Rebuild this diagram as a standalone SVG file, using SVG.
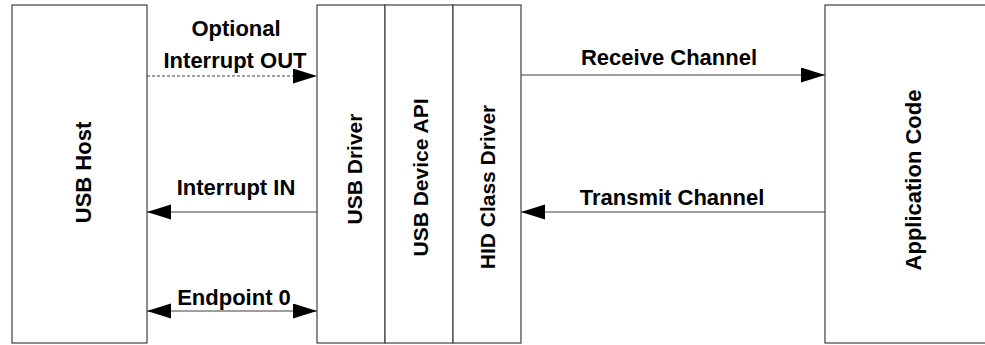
<svg xmlns="http://www.w3.org/2000/svg" width="985" height="345" viewBox="0 0 985 345">
<style>
.box{fill:#fff;stroke:#404040;stroke-width:1.2}
.lbl{font-family:"Liberation Sans",Arial,sans-serif;font-weight:bold;font-size:22px;fill:#000;text-anchor:middle}
.mid{font-size:21px}
.conn{stroke:#404040;stroke-width:1.2;fill:none}
.dash{stroke-dasharray:3,2}
</style>
<defs>
<marker id="ah" markerUnits="userSpaceOnUse" markerWidth="25" markerHeight="16" refX="24" refY="7.5" orient="auto-start-reverse">
<path d="M0,0 L24,7.5 L0,15 z" fill="#000"/>
</marker>
</defs>
<rect width="985" height="345" fill="#fff"/>
<g id="usb-host">
<rect class="box" x="12" y="5" width="135" height="338"/>
<text class="lbl" transform="translate(91,172.5) rotate(-90)">USB Host</text>
</g>
<g id="usb-driver">
<rect class="box" x="317" y="5" width="68" height="338"/>
<text class="lbl mid" transform="translate(362,169) rotate(-90)">USB Driver</text>
</g>
<g id="usb-device-api">
<rect class="box" x="385" y="5" width="68" height="338"/>
<text class="lbl mid" transform="translate(428,177.5) rotate(-90)">USB Device API</text>
</g>
<g id="hid-class-driver">
<rect class="box" x="453" y="5" width="68" height="338"/>
<text class="lbl mid" transform="translate(495,187) rotate(-90)">HID Class Driver</text>
</g>
<g id="application-code">
<rect class="box" x="825" y="5" width="170" height="338"/>
<text class="lbl" transform="translate(921,180) rotate(-90)">Application Code</text>
</g>
<g id="connectors">
<line class="conn dash" x1="147" y1="76" x2="317" y2="76" marker-end="url(#ah)"/>
<text class="lbl" x="236" y="36">Optional</text>
<text class="lbl" x="235" y="68">Interrupt OUT</text>
<line class="conn" x1="317" y1="212" x2="147" y2="212" marker-end="url(#ah)"/>
<text class="lbl" x="236" y="195">Interrupt IN</text>
<line class="conn" x1="147" y1="311" x2="317" y2="311" marker-start="url(#ah)" marker-end="url(#ah)"/>
<text class="lbl" x="234" y="305">Endpoint 0</text>
<line class="conn" x1="521" y1="75" x2="825" y2="75" marker-end="url(#ah)"/>
<text class="lbl" x="669" y="65">Receive Channel</text>
<line class="conn" x1="825" y1="212" x2="521" y2="212" marker-end="url(#ah)"/>
<text class="lbl" x="672" y="205">Transmit Channel</text>
</g>
</svg>
